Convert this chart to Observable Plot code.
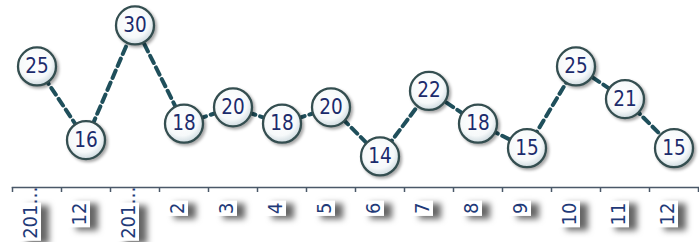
<!DOCTYPE html>
<html>
<head>
<meta charset="utf-8">
<script src="https://cdn.jsdelivr.net/npm/d3@7"></script>
<script src="https://cdn.jsdelivr.net/npm/@observablehq/plot@0.6"></script>
<style>
  html, body { margin: 0; padding: 0; background: #fff; }
  svg { display: block; }
</style>
</head>
<body>
<div id="chart"></div>
<script>
const categories = ["201…", "12", "201…", "2", "3", "4", "5", "6", "7", "8", "9", "10", "11", "12"];
const values = [25, 16, 30, 18, 20, 18, 20, 14, 22, 18, 15, 25, 21, 15];
const yDomain = [10.2, 33.05];

const data = categories.map((c, i) => ({i, cat: c, value: values[i]}));
const boundaries = d3.range(categories.length + 1).map(k => k - 0.5);
const shortLabels = data.filter(d => !d.cat.includes("…"));
const longLabels = data.filter(d => d.cat.includes("…"));

const font = "'DejaVu Sans Condensed', 'Liberation Sans', sans-serif";
const labelStyle = {
  x: "i", text: "cat", frameAnchor: "bottom", rotate: -90, textAnchor: "end",
  fontSize: 20, fill: "#1f3a78"
};

const plot = Plot.plot({
  width: 699,
  height: 242,
  marginTop: 0,
  marginBottom: 55,
  marginLeft: 12,
  marginRight: 1,
  style: {fontFamily: font, background: "#fff", overflow: "visible"},
  x: {type: "linear", domain: [-0.5, categories.length - 0.5]},
  y: {domain: yDomain, axis: null},
  marks: [
    Plot.text(shortLabels, {...labelStyle, dy: 15}),
    Plot.text(longLabels, {...labelStyle, dy: -1}),
    Plot.frame({anchor: "bottom", stroke: "#4a5868", strokeWidth: 1.5}),
    Plot.axisX({ticks: boundaries, tickSize: 5, tickFormat: () => "", label: null, stroke: "#4a5868", strokeWidth: 1.5}),
    Plot.line(data, {x: "i", y: "value", stroke: "#1f4f5b", strokeWidth: 4, strokeDasharray: "8,5"}),
    Plot.dot(data, {x: "i", y: "value", r: 19, fill: "url(#ball)", stroke: "#344e50", strokeWidth: 2.3}),
    Plot.text(data, {x: "i", y: "value", text: d => String(d.value), fontSize: 20.5, fill: "#1b2b6c", fontFamily: font})
  ]
});

document.getElementById("chart").appendChild(plot);

const svg = d3.select(plot);
const defs = svg.insert("defs", ":first-child");
const grad = defs.append("radialGradient").attr("id", "ball").attr("cx", "45%").attr("cy", "40%").attr("r", "60%");
grad.append("stop").attr("offset", "0%").attr("stop-color", "#ffffff");
grad.append("stop").attr("offset", "70%").attr("stop-color", "#f6f9fa");
grad.append("stop").attr("offset", "100%").attr("stop-color", "#cfdbe0");

svg.selectAll('g[aria-label="dot"]').style("filter", "drop-shadow(2px 2.5px 1.5px rgba(0,0,0,0.35))");

const textGroups = svg.selectAll('g[aria-label="text"]').nodes().slice(0, 2);
textGroups.forEach(node => {
  const g = d3.select(node);
  const texts = g.selectAll("text").nodes();
  const boxes = g.insert("g", ":first-child").style("filter", "drop-shadow(8px 3px 3px rgba(0,0,0,0.6))");
  texts.forEach(t => {
    const b = t.getBBox();
    let w = b.width;
    const s = t.textContent;
    const k = s.indexOf("…");
    if (k >= 0) w -= t.getSubStringLength(k, s.length - k);
    boxes.append("rect")
      .attr("transform", t.getAttribute("transform"))
      .attr("x", b.x - 2).attr("y", b.y + 1)
      .attr("width", w + 4).attr("height", b.height - 2)
      .attr("fill", "#fff");
  });
});
</script>
</body>
</html>
